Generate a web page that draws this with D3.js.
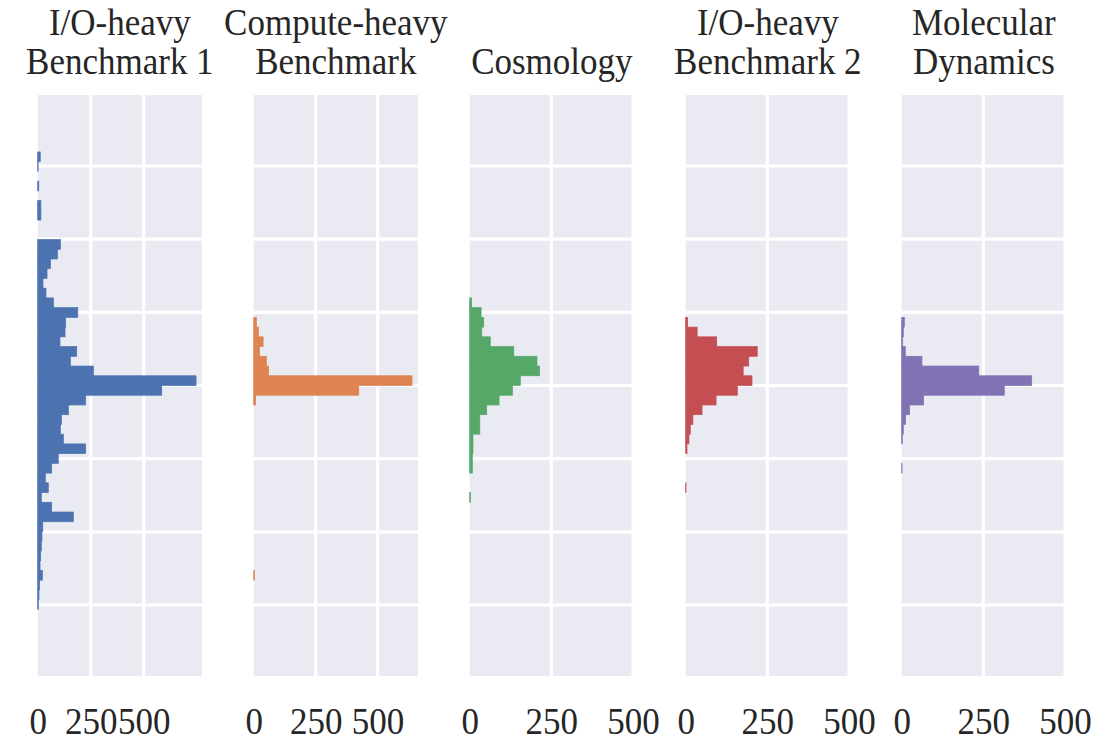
<!DOCTYPE html>
<html>
<head>
<meta charset="utf-8">
<script src="https://cdn.jsdelivr.net/npm/d3@7"></script>
<style>
  body { margin: 0; background: #ffffff; }
  text { font-family: "Liberation Serif", "Times New Roman", serif; fill: #262626; }
</style>
</head>
<body>
<svg id="chart" width="1107" height="741"></svg>
<script>
// Panel titles (two lines each) and colours
const titles = [
  ["I/O-heavy", "Benchmark 1"],
  ["Compute-heavy", "Benchmark"],
  ["", "Cosmology"],
  ["I/O-heavy", "Benchmark 2"],
  ["Molecular", "Dynamics"]
];
const colors = ["#4C72B0", "#DD8452", "#55A868", "#C44E52", "#8172B3"];

// Count axis extent per panel and its tick values
const xMax = [775, 663, 503, 503, 503];
const xTicks = [0, 250, 500];

// Horizontal grid positions on the value axis
const yGrid = [1, 2, 3, 4, 5, 6, 7];
const yDomain = [0.03, 7.97];

// Shared histogram bins: listed from the highest value downwards
const binTop = 7.192;
const binWidth = 0.133;

const ioHeavy1 = [12, 2, 0, 5, 0, 15, 15, 0, 0, 107, 93, 60, 44, 25, 39, 74, 189, 132, 129, 105,
  184, 154, 263, 747, 585, 226, 145, 112, 107, 121, 226, 97, 66, 36, 50, 17, 66, 168, 24, 20,
  17, 14, 11, 22, 9, 6, 3];
const computeHeavy = [0, 0, 0, 0, 0, 0, 0, 0, 0, 0, 0, 0, 0, 0, 0, 0, 0, 11, 19, 38,
  24, 51, 60, 639, 424, 8, 0, 0, 0, 0, 0, 0, 0, 0, 0, 0, 0, 0, 0, 0,
  0, 0, 0, 3, 0, 0, 0];
const cosmology = [0, 0, 0, 0, 0, 0, 0, 0, 0, 0, 0, 0, 0, 0, 0, 6, 35, 43, 37, 63,
  135, 206, 214, 155, 131, 90, 52, 31, 31, 10, 10, 8, 8, 0, 0, 2, 0, 0, 0, 0,
  0, 0, 0, 0, 0, 0, 0];
const ioHeavy2 = [0, 0, 0, 0, 0, 0, 0, 0, 0, 0, 0, 0, 0, 0, 0, 0, 0, 6, 35, 95,
  219, 193, 176, 203, 158, 93, 50, 22, 14, 10, 4, 0, 0, 0, 1, 0, 0, 0, 0, 0,
  0, 0, 0, 0, 0, 0, 0];
const molecularDynamics = [0, 0, 0, 0, 0, 0, 0, 0, 0, 0, 0, 0, 0, 0, 0, 0, 0, 8, 5, 3,
  11, 62, 236, 398, 314, 67, 24, 12, 5, 2, 0, 0, 1, 0, 0, 0, 0, 0, 0, 0,
  0, 0, 0, 0, 0, 0, 0];

const series = [ioHeavy1, computeHeavy, cosmology, ioHeavy2, molecularDynamics];

// Layout
const panelTop = 95, panelBottom = 676;
const firstLeft = 37.7, panelStep = 216, panelWidth = 164.3;
const fontSize = 35;

const svg = d3.select("#chart");

const y = d3.scaleLinear().domain(yDomain).range([panelBottom, panelTop]);

series.forEach((counts, i) => {
  const left = firstLeft + i * panelStep;
  const x = d3.scaleLinear().domain([0, xMax[i]]).range([left, left + panelWidth]);
  const g = svg.append("g");

  // background
  g.append("rect")
    .attr("x", left).attr("y", panelTop)
    .attr("width", panelWidth).attr("height", panelBottom - panelTop)
    .attr("fill", "#EAEAF2");

  // grid
  g.selectAll("line.vgrid").data(xTicks.filter(t => t > 0)).join("line")
    .attr("class", "vgrid")
    .attr("x1", d => x(d)).attr("x2", d => x(d))
    .attr("y1", panelTop).attr("y2", panelBottom)
    .attr("stroke", "#ffffff").attr("stroke-width", 3.2);
  g.selectAll("line.hgrid").data(yGrid).join("line")
    .attr("class", "hgrid")
    .attr("x1", left).attr("x2", left + panelWidth)
    .attr("y1", d => y(d)).attr("y2", d => y(d))
    .attr("stroke", "#ffffff").attr("stroke-width", 3.2);

  // horizontal histogram bars
  const bins = counts.map((c, k) => ({
    hi: binTop - k * binWidth,
    lo: binTop - (k + 1) * binWidth,
    count: c
  })).filter(b => b.count > 0);

  g.selectAll("rect.bar").data(bins).join("rect")
    .attr("class", "bar")
    .attr("x", x(0))
    .attr("y", d => y(d.hi))
    .attr("width", d => x(d.count) - x(0))
    .attr("height", d => y(d.lo) - y(d.hi))
    .attr("fill", colors[i])
    .attr("stroke", colors[i])
    .attr("stroke-width", 0.7);

  // count axis labels
  const axis = d3.axisBottom(x).tickValues(xTicks).tickSize(0).tickFormat(d3.format("d"));
  const ag = g.append("g").attr("transform", `translate(0,${panelBottom})`).call(axis);
  ag.select(".domain").remove();
  ag.selectAll("text")
    .attr("y", 0).attr("dy", null)
    .attr("transform", "translate(0,58) scale(1,1.07)")
    .style("font-family", '"Liberation Serif", "Times New Roman", serif')
    .style("font-size", fontSize + "px")
    .attr("fill", "#262626");

  // title
  const cx = left + panelWidth / 2;
  [35, 74].forEach((base, j) => {
    if (!titles[i][j]) return;
    g.append("text")
      .attr("text-anchor", "middle")
      .attr("transform", `translate(${cx},${base}) scale(1,1.07)`)
      .style("font-size", fontSize + "px")
      .text(titles[i][j]);
  });
});
</script>
</body>
</html>
